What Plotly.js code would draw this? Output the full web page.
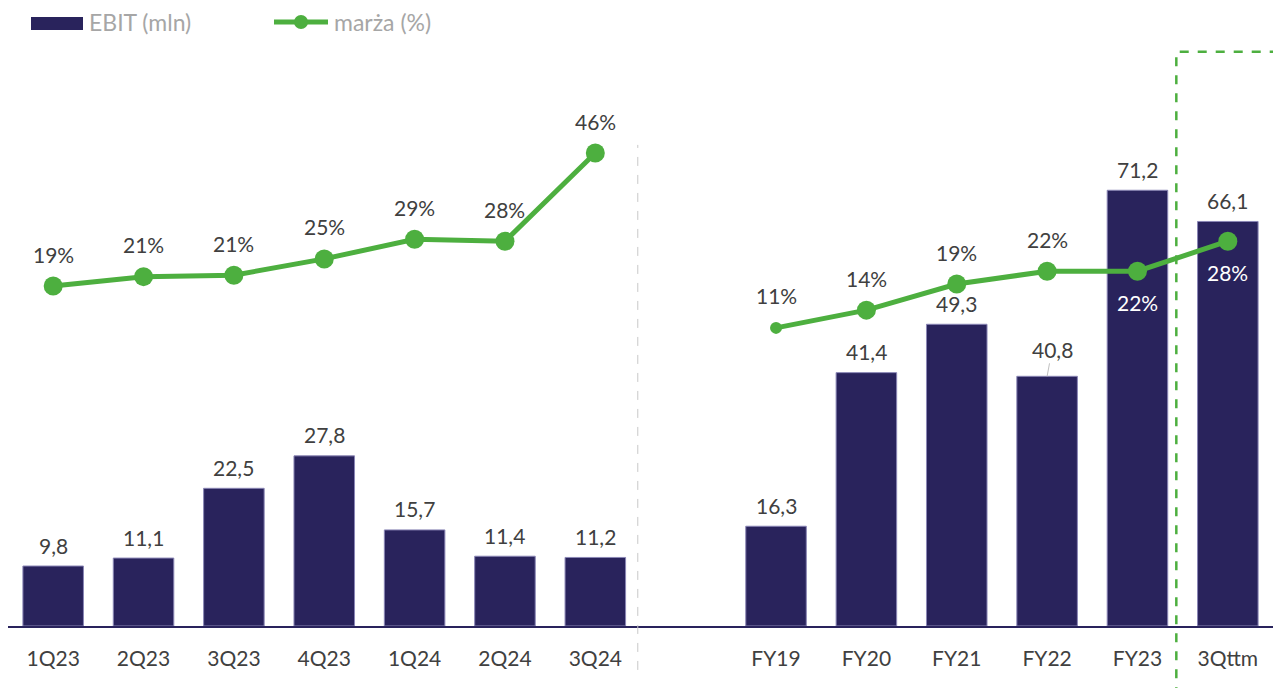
<!DOCTYPE html>
<html>
<head>
<meta charset="utf-8">
<script src="https://cdn.plot.ly/plotly-3.0.1.min.js"></script>
<style>html,body{margin:0;padding:0;background:#fff;}#chart{width:1276px;height:688px;}</style>
</head>
<body>
<div id="chart"></div>
<script>
const categories = ['1Q23','2Q23','3Q23','4Q23','1Q24','2Q24','3Q24','','FY19','FY20','FY21','FY22','FY23','3Qttm'];
const ebit = [9.8, 11.1, 22.5, 27.8, 15.7, 11.4, 11.2, null, 16.3, 41.4, 49.3, 40.8, 71.2, 66.1];
const margin = [19.0, 20.9, 21.2, 24.5, 28.5, 28.1, 46.0, null, 10.5, 14.1, 19.4, 22.0, 22.0, 28.1];
const marginLabels = ['19%','21%','21%','25%','29%','28%','46%','','11%','14%','19%','22%','22%','28%'];
const marginLabelBelow = [false,false,false,false,false,false,false,false,false,false,false,false,true,true];
const legendNames = ['EBIT (mln)', 'marża (%)'];

const BAR = '#29235C';
const GREEN = '#4DAF3F';
const FONT = 'Lato, "Open Sans", sans-serif';
const xs = categories.map((c, i) => i);

// plot-area geometry helpers (pixel -> paper) for the custom legend
const L = 8, R = 3, T = 40, B = 62, W = 1276, H = 688;
const PW = W - L - R, PH = H - T - B;
const px = p => (p - L) / PW;
const py = p => (H - B - p) / PH;

const traces = [
  {
    type: 'bar', name: legendNames[0], x: xs, y: ebit,
    marker: {color: BAR, line: {color: '#8a86b5', width: 1}},
    width: 0.67, hoverinfo: 'skip', showlegend: false
  },
  {
    type: 'scatter', mode: 'lines+markers', name: legendNames[1], x: xs, y: margin, yaxis: 'y2',
    line: {color: GREEN, width: 5},
    marker: {color: GREEN, opacity: 1, line: {width: 0}, size: xs.map(i => i === 8 ? 12 : 19)},
    connectgaps: false, hoverinfo: 'skip', showlegend: false
  }
];

const annotations = [];
xs.forEach(i => {
  if (ebit[i] === null) return;
  const isLeader = categories[i] === 'FY22';
  annotations.push({
    x: i, y: ebit[i], xref: 'x', yref: 'y',
    text: ebit[i].toFixed(1).replace('.', ','),
    showarrow: isLeader, arrowhead: 0, arrowwidth: 1, arrowcolor: '#bfbfbf',
    ax: isLeader ? 5 : 0, ay: isLeader ? -27 : 0, standoff: 0,
    yshift: isLeader ? 0 : 21,
    font: {family: FONT, size: 21, color: '#404040'}
  });
});
xs.forEach(i => {
  if (margin[i] === null) return;
  const below = marginLabelBelow[i];
  annotations.push({
    x: i, y: margin[i], xref: 'x', yref: 'y2',
    text: marginLabels[i], showarrow: false,
    yshift: below ? -31 : 32,
    font: {family: FONT, size: 21, color: below ? '#ffffff' : '#404040'}
  });
});
// custom legend texts
annotations.push({xref: 'paper', yref: 'paper', x: px(87), y: py(22), xanchor: 'left', yanchor: 'middle',
  text: legendNames[0], showarrow: false, font: {family: FONT, size: 23, color: '#A6A6A6'}});
annotations.push({xref: 'paper', yref: 'paper', x: px(332), y: py(22), xanchor: 'left', yanchor: 'middle',
  text: legendNames[1], showarrow: false, font: {family: FONT, size: 23, color: '#A6A6A6'}});

const layout = {
  width: W, height: H,
  margin: {l: L, r: R, t: T, b: B},
  paper_bgcolor: '#fff', plot_bgcolor: '#fff',
  separators: ',.',
  font: {family: FONT, size: 21, color: '#404040'},
  showlegend: false,
  xaxis: {
    range: [-0.5, 13.5], tickvals: xs, ticktext: categories,
    showgrid: false, zeroline: false, ticks: '',
    showline: true, linecolor: '#29235C', linewidth: 2,
    ticklabelstandoff: 13,
    tickfont: {family: FONT, size: 21, color: '#404040'}
  },
  yaxis: {range: [0, 95.75], visible: false, showgrid: false, zeroline: false},
  yaxis2: {range: [-50.02, 68.94], overlaying: 'y', visible: false, showgrid: false, zeroline: false},
  shapes: [
    {type: 'line', xref: 'x', yref: 'paper', x0: 6.47, x1: 6.47, y0: -0.075, y1: 0.821,
     line: {color: '#c8c8c8', width: 1, dash: 'dash'}},
    {type: 'path', xref: 'x', yref: 'paper',
     path: 'M 12.43 -0.12 L 12.43 0.98 L 14.5 0.98',
     line: {color: GREEN, width: 2.5, dash: 'dash'}},
    // legend swatches
    {type: 'rect', xref: 'paper', yref: 'paper', x0: px(31), x1: px(83), y0: py(30), y1: py(17),
     fillcolor: BAR, line: {width: 0}},
    {type: 'line', xref: 'paper', yref: 'paper', x0: px(274), x1: px(328), y0: py(22), y1: py(22),
     line: {color: GREEN, width: 5}},
    {type: 'circle', xref: 'paper', yref: 'paper', x0: px(294), x1: px(308), y0: py(29), y1: py(15),
     fillcolor: GREEN, line: {width: 0}}
  ],
  annotations: annotations,
  hovermode: false
};

Plotly.newPlot('chart', traces, layout, {displayModeBar: false, staticPlot: true});
</script>
</body>
</html>
